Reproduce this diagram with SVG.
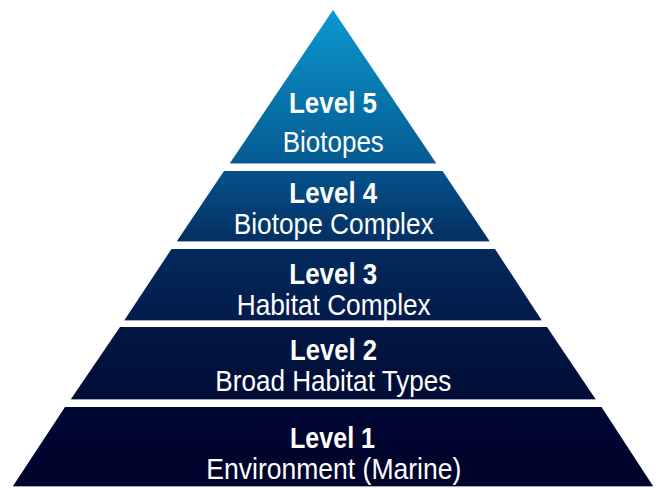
<svg xmlns="http://www.w3.org/2000/svg" width="660" height="488" viewBox="0 0 660 488">
<defs>
<linearGradient id="pg" gradientUnits="userSpaceOnUse" x1="0" y1="10" x2="0" y2="486">
<stop offset="0" stop-color="#0b98d0"/>
<stop offset="0.321" stop-color="#055b91"/>
<stop offset="0.338" stop-color="#05528a"/>
<stop offset="0.485" stop-color="#042f62"/>
<stop offset="0.502" stop-color="#032a5c"/>
<stop offset="0.651" stop-color="#021b4a"/>
<stop offset="0.666" stop-color="#021742"/>
<stop offset="0.817" stop-color="#010d37"/>
<stop offset="0.834" stop-color="#000733"/>
<stop offset="1" stop-color="#00032a"/>
</linearGradient>
</defs>
<style>
.band{fill:url(#pg);}
.edge{stroke:#a6a6c4;stroke-width:1;fill:none;}
.t{fill:#ffffff;font-family:"Liberation Sans",Arial,sans-serif;text-anchor:middle;font-size:30px;}
.b{font-weight:bold;}
</style>
<rect width="660" height="488" fill="#ffffff"/>
<g id="level5">
<polygon class="band" points="333,10 436,163 230,163"/>
<line class="edge" x1="230" y1="163.5" x2="436" y2="163.5"/>
<text class="t b" x="333" y="112.7" textLength="88" lengthAdjust="spacingAndGlyphs">Level 5</text>
<text class="t" x="333.3" y="151.7" textLength="101" lengthAdjust="spacingAndGlyphs">Biotopes</text>
</g>
<g id="level4">
<polygon class="band" points="224,171 442.5,171 489.5,241 177,241"/>
<line class="edge" x1="177" y1="241.5" x2="489.5" y2="241.5"/>
<text class="t b" x="333.3" y="203.4" textLength="88" lengthAdjust="spacingAndGlyphs">Level 4</text>
<text class="t" x="333.7" y="234.2" textLength="200" lengthAdjust="spacingAndGlyphs">Biotope Complex</text>
</g>
<g id="level3">
<polygon class="band" points="171.5,249 495,249 541.5,320 124.5,320"/>
<line class="edge" x1="124.5" y1="320.5" x2="541.5" y2="320.5"/>
<text class="t b" x="333.3" y="284.2" textLength="88" lengthAdjust="spacingAndGlyphs">Level 3</text>
<text class="t" x="333.7" y="315" textLength="194" lengthAdjust="spacingAndGlyphs">Habitat Complex</text>
</g>
<g id="level2">
<polygon class="band" points="120,327 547,327 595.5,399 71,399"/>
<line class="edge" x1="71" y1="399.5" x2="595.5" y2="399.5"/>
<text class="t b" x="333.6" y="360.1" textLength="87" lengthAdjust="spacingAndGlyphs">Level 2</text>
<text class="t" x="333.3" y="390.9" textLength="236" lengthAdjust="spacingAndGlyphs">Broad Habitat Types</text>
</g>
<g id="level1">
<polygon class="band" points="65,407 601.5,407 653,486 13,486"/>
<line class="edge" x1="13" y1="486.5" x2="653" y2="486.5"/>
<text class="t b" x="332.5" y="448.2" textLength="85" lengthAdjust="spacingAndGlyphs">Level 1</text>
<text class="t" x="333.8" y="479.3" textLength="255" lengthAdjust="spacingAndGlyphs">Environment (Marine)</text>
</g>
<g id="connectors"></g>
</svg>
